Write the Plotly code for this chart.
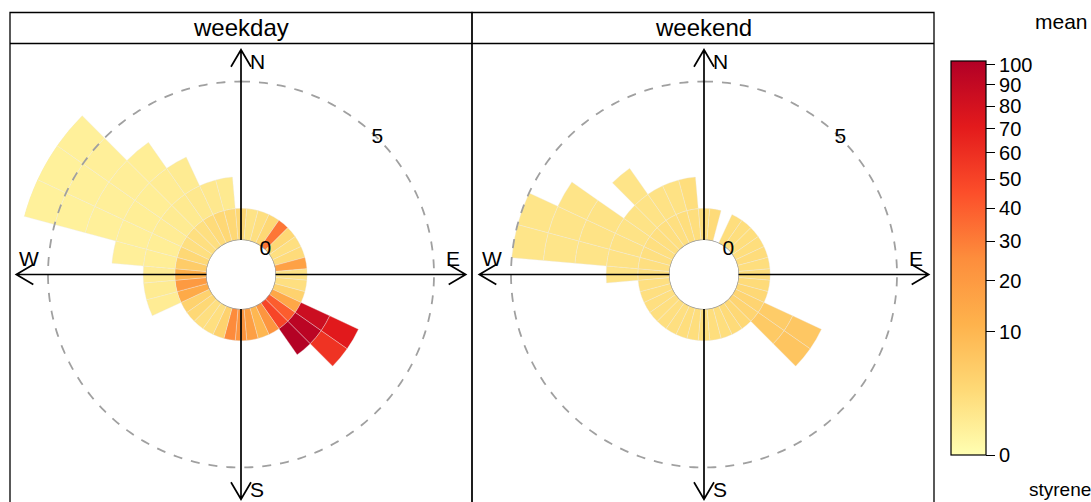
import numpy as np
import plotly.graph_objects as go

# ---------------- data ----------------
panels = ["weekday", "weekend"]
wd_bins = list(range(0, 360, 10))            # direction bin centres (deg)
colour_ticks = [0, 10, 20, 30, 40, 50, 60, 70, 80, 90, 100]
compass = ["N", "E", "S", "W"]
colour_max = 102

# mean styrene, wind-speed band 0-1 (one value per 10 degree bin)
weekday_ws0 = [3, 1.5, 2, 3, 32, 3, 2, 2.5, 17, 1.5, 2, 4, 15, 40, 50, 22, 10, 18,
               22, 26, 4, 2, 2, 3, 4, 14, 20, 12, 5, 3, 2, 2, 2, 2.5, 3, 3]
weekend_ws0 = [2.2, 2.6, None, 2.2, 2.2, 2.2, 2.2, 2.4, 2.2, 2.2, 2.6, 3, 3.6, 3.6, 3, 2.6, 2.2, 2.2,
               2.2, 2.2, 2.2, 2, 2, 2, 2, 2, 2, 2, 2, 2, 2, 2, 2, 2, 2.2, 2.2]

# higher wind-speed bands: directions and mean styrene
weekday_ws1_dir = [120, 130, 140, 250, 260, 270, 280, 290, 300, 310, 320, 330, 340, 350]
weekday_ws1 = [85, 95, 100, 0.7, 0.8, 0.7, 0.6, 0.6, 0.7, 0.8, 0.9, 1.0, 1.0, 0.9]
weekday_ws2_dir = [120, 130, 280, 290, 300, 310, 320, 330]
weekday_ws2 = [72, 58, 0.5, 0.5, 0.6, 0.6, 0.7, 0.8]
weekday_ws3_dir = [290, 300, 310, 320]
weekday_ws3 = [0.45, 0.5, 0.55, 0.6]
weekday_ws4_dir = [290, 300, 310]
weekday_ws4 = [0.4, 0.45, 0.5]
weekday_ws5_dir = [290, 300, 310]
weekday_ws5 = [0.4, 0.4, 0.45]

weekend_ws1_dir = [120, 130, 270, 280, 290, 300, 310, 320, 330, 340, 350]
weekend_ws1 = [5, 5.5, 1.5, 1.6, 1.6, 1.5, 1.5, 1.5, 1.6, 1.7, 2.2]
weekend_ws2_dir = [120, 130, 280, 290, 300, 320]
weekend_ws2 = [6, 6.5, 1.4, 1.5, 1.5, 1.4]
weekend_ws3_dir = [280, 290, 300]
weekend_ws3 = [1.3, 1.4, 1.4]
weekend_ws4_dir = [280, 290]
weekend_ws4 = [1.3, 1.3]

# ---------------- build cells ----------------
def build(ws0, bands):
    dirs, base, vals = [], [], []
    for d, v in zip(wd_bins, ws0):
        if v is not None:
            dirs.append(d); base.append(0); vals.append(v)
    for lower, (ds, vs) in enumerate(bands, start=1):
        for d, v in zip(ds, vs):
            dirs.append(d); base.append(lower); vals.append(v)
    return dirs, base, vals

cells = {
    "weekday": build(weekday_ws0, [(weekday_ws1_dir, weekday_ws1), (weekday_ws2_dir, weekday_ws2),
                                   (weekday_ws3_dir, weekday_ws3), (weekday_ws4_dir, weekday_ws4),
                                   (weekday_ws5_dir, weekday_ws5)]),
    "weekend": build(weekend_ws0, [(weekend_ws1_dir, weekend_ws1), (weekend_ws2_dir, weekend_ws2),
                                   (weekend_ws3_dir, weekend_ws3), (weekend_ws4_dir, weekend_ws4)]),
}

colorscale = [[0, "#FFFFB2"], [1/6, "#FED976"], [2/6, "#FEB24C"], [3/6, "#FD8D3C"],
              [4/6, "#FC4E2A"], [5/6, "#E31A1C"], [1, "#B10026"]]
cmax = np.sqrt(colour_max)

# ---------------- geometry ----------------
W, H = 1091, 502
centres = [(241, 274.5), (704, 274.5)]
R = 224.7
HOLE = 0.1535
FONT = "Liberation Sans, Arial, sans-serif"

def px(x, y):
    return x / W, 1 - y / H

fig = go.Figure()
shapes, annotations = [], []
for i, (name, (cx, cy)) in enumerate(zip(panels, centres)):
    pid = "polar" if i == 0 else "polar2"
    dirs, base, vals = cells[name]
    fig.add_trace(go.Barpolar(
        r=[1] * len(dirs), base=base, theta=dirs, width=[10] * len(dirs),
        marker=dict(color=np.sqrt(vals), colorscale=colorscale, cmin=0, cmax=cmax,
                    line=dict(color="rgba(235,235,235,0.7)", width=0.5),
                    showscale=(i == 0),
                    colorbar=dict(thickness=35, len=394, lenmode="pixels",
                                  x=951 / W, xanchor="left", y=1 - 61 / H, yanchor="top",
                                  xpad=0, ypad=0, outlinewidth=1.2, outlinecolor="black",
                                  ticks="outside", ticklen=9, tickcolor="black", tickwidth=1.2,
                                  tickvals=np.sqrt(colour_ticks),
                                  ticktext=[str(t) for t in colour_ticks],
                                  tickfont=dict(family=FONT, size=20, color="black"))),
        subplot=pid, hoverinfo="skip"))
    circ = np.linspace(0, 360, 361)
    fig.add_trace(go.Scatterpolar(r=[0] * len(circ), theta=circ, mode="lines",
                                  line=dict(color="#999999", width=1.2), subplot=pid, hoverinfo="skip"))
    fig.add_trace(go.Scatterpolar(r=[5] * len(circ), theta=circ, mode="lines",
                                  line=dict(color="#a0a0a0", width=1.8, dash="dash"),
                                  subplot=pid, hoverinfo="skip"))
    fig.add_trace(go.Scatterpolar(r=[0, 5], theta=[45, 45], mode="text", text=["0", "5"],
                                  textfont=dict(family=FONT, size=21, color="black"),
                                  subplot=pid, hoverinfo="skip"))
    x0, y0 = px(cx - R, cy + R)
    x1, y1 = px(cx + R, cy - R)
    fig.update_layout({pid: dict(
        domain=dict(x=[x0, x1], y=[y0, y1]), hole=HOLE, bgcolor="rgba(0,0,0,0)",
        barmode="overlay", bargap=0,
        radialaxis=dict(range=[0, 6], visible=False, showgrid=False),
        angularaxis=dict(rotation=90, direction="clockwise", visible=False, showgrid=False))})

    hr = R * HOLE
    for lab, (ux, uy) in zip(compass, [(0, -1), (1, 0), (0, 1), (-1, 0)]):
        sx, sy = cx + hr * ux, cy + hr * uy
        tx, ty = cx + R * ux, cy + R * uy
        qx, qy = -uy, ux
        a1 = (tx - 17 * ux + 10 * qx, ty - 17 * uy + 10 * qy)
        a2 = (tx - 17 * ux - 10 * qx, ty - 17 * uy - 10 * qy)
        pts = [px(sx, sy), px(tx, ty), px(*a1), px(tx, ty), px(*a2)]
        path = "M {} {} L {} {} M {} {} L {} {} L {} {}".format(*[c for p in pts for c in p])
        shapes.append(dict(type="path", xref="paper", yref="paper", path=path,
                           line=dict(color="black", width=1.7), layer="above"))
    lab_pos = {"N": (cx + 16, cy - 212.8), "S": (cx + 16, cy + 214.5),
               "W": (cx - 212, cy - 16.5), "E": (cx + 212, cy - 16.5)}
    for lab in compass:
        lx, ly = px(*lab_pos[lab])
        annotations.append(dict(x=lx, y=ly, xref="paper", yref="paper", text=lab, showarrow=False,
                                font=dict(family=FONT, size=21, color="black"),
                                xanchor="center", yanchor="middle"))

    left, right = (10, 472) if i == 0 else (472, 934)
    bx0, by0 = px(left, 560)
    bx1, by1 = px(right, 12.5)
    shapes.append(dict(type="rect", xref="paper", yref="paper", x0=bx0, x1=bx1, y0=by0, y1=by1,
                       line=dict(color="black", width=1.3), layer="above"))
    sx0, sy0 = px(left, 43.5)
    shapes.append(dict(type="line", xref="paper", yref="paper", x0=bx0, x1=bx1, y0=sy0, y1=sy0,
                       line=dict(color="black", width=1.3)))
    tx_, ty_ = px((left + right) / 2, 28)
    annotations.append(dict(x=tx_, y=ty_, xref="paper", yref="paper", text=name, showarrow=False,
                            font=dict(family=FONT, size=24, color="black"),
                            xanchor="center", yanchor="middle"))

mx, my = px(1061, 22)
annotations.append(dict(x=mx, y=my, xref="paper", yref="paper", text="mean", showarrow=False,
                        font=dict(family=FONT, size=21, color="black"), xanchor="center", yanchor="middle"))
sx_, sy_ = px(1060, 489)
annotations.append(dict(x=sx_, y=sy_, xref="paper", yref="paper", text="styrene", showarrow=False,
                        font=dict(family=FONT, size=19, color="black"), xanchor="center", yanchor="middle"))

fig.update_layout(width=W, height=H, margin=dict(l=0, r=0, t=0, b=0), showlegend=False,
                  paper_bgcolor="white", plot_bgcolor="white",
                  shapes=shapes, annotations=annotations)
fig.write_html("out.html", config={"displayModeBar": False},
               post_script="document.body.style.margin='0';document.body.style.overflow='hidden';")
